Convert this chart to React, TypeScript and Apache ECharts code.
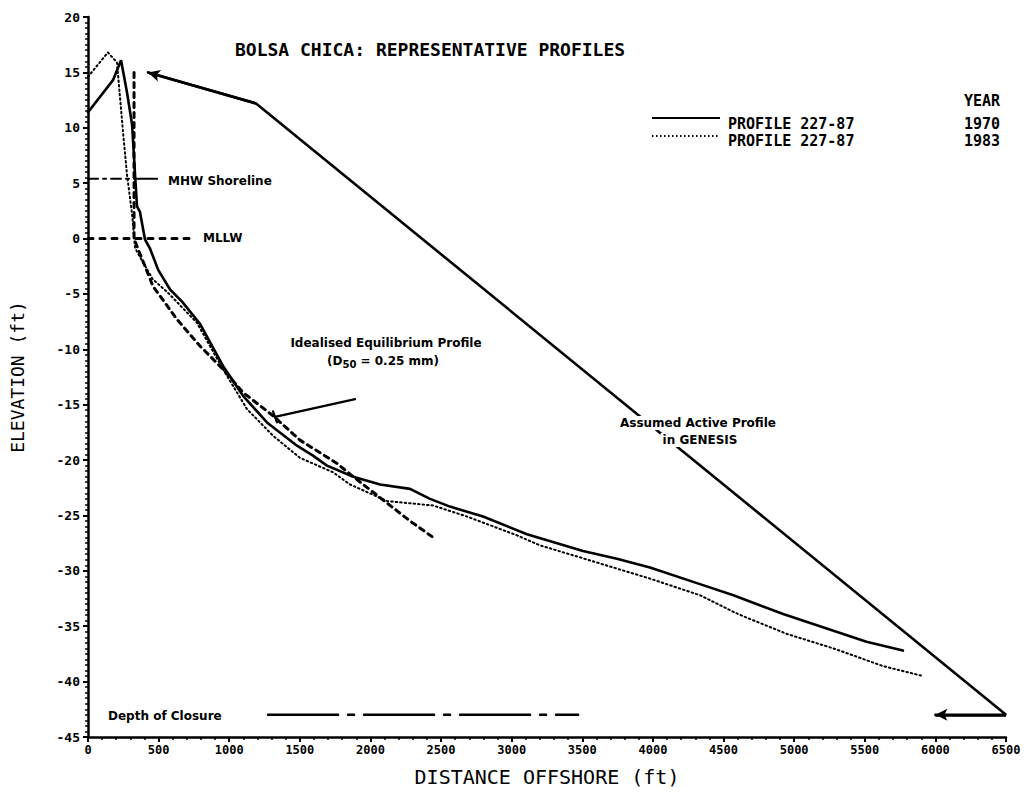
import React, { useEffect, useRef } from "react";
import * as echarts from "echarts";

// ---- data (distance offshore ft, elevation ft) ----
const profile1970: [number, number][] = [
  [0, 11.4], [177, 14.3], [234, 16.1], [276, 13.2], [312, 10.3], [333, 5.8], [347, 2.9],
  [368, 2.4], [404, -0.1], [439, -0.9], [496, -2.8], [581, -4.6], [666, -5.7], [793, -7.7],
  [956, -11.5], [1098, -14.2], [1267, -16.6], [1480, -18.7], [1593, -19.6], [1692, -20.5],
  [1878, -21.5], [2068, -22.2], [2280, -22.6], [2422, -23.5], [2563, -24.2], [2797, -25.1],
  [3108, -26.7], [3505, -28.2], [3745, -28.9], [3979, -29.7], [4333, -31.2], [4570, -32.2],
  [4922, -33.9], [5512, -36.4], [5770, -37.2],
];
const profile1983: [number, number][] = [
  [0, 14.6], [141, 16.8], [205, 15.9], [227, 12.7], [248, 9.6], [276, 5.8], [312, 2.2],
  [333, -0.8], [347, -1.2], [460, -3.7], [567, -4.9], [771, -7.6], [956, -11.8], [1126, -15.4],
  [1310, -17.8], [1501, -19.8], [1735, -21.1], [1855, -22.2], [2117, -23.7], [2443, -24.1],
  [2684, -25.1], [3038, -26.8], [3200, -27.7], [3462, -28.7], [3745, -29.8], [3979, -30.7],
  [4333, -32.2], [4570, -33.7], [4640, -34.1], [4950, -35.7], [5277, -37.0], [5630, -38.6],
  [5912, -39.5],
];
const equilibriumProfile: [number, number][] = [
  [326, 15], [326, 0], [347, -0.7], [460, -4.3], [630, -7.3], [793, -9.7], [956, -11.8],
  [1098, -13.9], [1310, -16.0], [1501, -18.2], [1763, -20.3], [1878, -21.5], [2089, -23.6],
  [2280, -25.5], [2457, -27.1],
];
const activeProfile: [number, number][] = [
  [425, 15], [1190, 12.2], [6500, -43], [6000, -43],
];
const mhwDashDot: [number, number][] = [[0, 5.4], [330, 5.4]];
const mhwSolid: [number, number][] = [[330, 5.4], [490, 5.4]];
const mllwLine: [number, number][] = [[0, 0], [760, 0]];
const closureLine: [number, number][] = [[1275, -43], [3470, -43]];
const equilibriumLeader: [number, number][] = [[1891, -14.5], [1324, -16.1]];
const equilibriumLeaderBar: [number, number][] = [[1310, -15.6], [1338, -16.6]];

const xTicks = { min: 0, max: 6500, interval: 500 };
const yTicks = { min: -45, max: 20, interval: 5 };

const MONO = "'DejaVu Sans Mono', monospace";
const SANS = "'DejaVu Sans', sans-serif";

export default function App() {
  const ref = useRef<HTMLDivElement>(null);
  useEffect(() => {
    if (!ref.current) return;
    const chart = echarts.init(ref.current, null, { renderer: "svg" });
    const black = "#000";
    const lineBase = (name: string, data: [number, number][], width: number, type: any, z = 2) => ({
      name,
      type: "line",
      data,
      showSymbol: false,
      symbol: "none",
      silent: true,
      clip: false,
      z,
      lineStyle: { color: black, width, type, cap: "round" },
    });
    const annText = (x: number, y: number, text: string, opts: any = {}) => ({
      type: "text",
      x,
      y,
      z: 100,
      style: {
        text,
        fill: black,
        font: opts.font || `bold 12px ${SANS}`,
        textAlign: opts.align || "left",
        textVerticalAlign: "middle",
        backgroundColor: opts.bg,
        padding: opts.bg ? [1, 2] : 0,
        rich: opts.rich,
      },
    });
    chart.setOption({
      animation: false,
      backgroundColor: "#fff",
      title: {
        text: "BOLSA CHICA: REPRESENTATIVE PROFILES",
        left: 230,
        top: 35,
        textStyle: { fontFamily: MONO, fontSize: 18, fontWeight: "bold", color: black },
      },
      grid: { left: 88, right: 19, top: 17, bottom: 62 },
      xAxis: {
        type: "value",
        ...xTicks,
        name: "DISTANCE OFFSHORE (ft)",
        nameLocation: "middle",
        nameGap: 30,
        nameTextStyle: { fontFamily: MONO, fontSize: 20, color: black },
        axisLine: { show: true, onZero: false, lineStyle: { color: black, width: 2.5 } },
        axisTick: { show: true, length: 5, lineStyle: { color: black, width: 2 } },
        minorTick: { show: true, splitNumber: 5, length: 3, lineStyle: { color: black, width: 1.5 } },
        splitLine: { show: false },
        axisLabel: {
          fontFamily: MONO, fontWeight: "bold", fontSize: 12, color: black, margin: 7,
          formatter: (v: number) => String(v),
        },
      },
      yAxis: {
        type: "value",
        ...yTicks,
        name: "ELEVATION (ft)",
        nameLocation: "middle",
        nameGap: 62,
        nameTextStyle: { fontFamily: MONO, fontSize: 18, color: black },
        axisLine: { show: true, onZero: false, lineStyle: { color: black, width: 2.5 } },
        axisTick: { show: true, length: 5, lineStyle: { color: black, width: 2 } },
        minorTick: { show: true, splitNumber: 10, length: 3, lineStyle: { color: black, width: 1.5 } },
        splitLine: { show: false },
        axisLabel: {
          fontFamily: MONO, fontWeight: "bold", fontSize: 13, color: black, margin: 8,
          formatter: (v: number) => String(v),
        },
      },
      series: [
        lineBase("PROFILE 227-87 1970", profile1970, 2.6, "solid"),
        lineBase("PROFILE 227-87 1983", profile1983, 2, [1.5, 3]),
        lineBase("Idealised Equilibrium Profile", equilibriumProfile, 3, [5, 5]),
        {
          ...lineBase("Assumed Active Profile", activeProfile, 2.6, "solid"),
          markLine: {
            silent: true,
            symbol: ["none", "arrow"],
            symbolSize: [9, 12],
            label: { show: false },
            lineStyle: { color: black, width: 2.6, type: "solid" },
            data: [
              [{ coord: activeProfile[1] }, { coord: activeProfile[0] }],
              [{ coord: activeProfile[2] }, { coord: activeProfile[3] }],
            ],
          },
        },
        lineBase("MHW dash-dot", mhwDashDot, 2, [10, 5, 3, 5]),
        lineBase("MHW solid", mhwSolid, 2, "solid"),
        lineBase("MLLW", mllwLine, 3, [5, 7]),
        lineBase("Depth of Closure", closureLine, 2.5, [70, 10, 6, 10]),
        lineBase("Leader", equilibriumLeader, 2.2, "solid"),
        lineBase("Leader bar", equilibriumLeaderBar, 2.2, "solid"),
      ],
      graphic: [
        // legend
        annText(1000, 101, "YEAR", { font: `bold 15px ${MONO}`, align: "right" }),
        { type: "line", shape: { x1: 652, y1: 118, x2: 720, y2: 118 }, style: { stroke: black, lineWidth: 2 } },
        annText(728, 124, "PROFILE 227-87", { font: `bold 15px ${MONO}` }),
        annText(1000, 124, "1970", { font: `bold 15px ${MONO}`, align: "right" }),
        { type: "line", shape: { x1: 652, y1: 136, x2: 720, y2: 136 }, style: { stroke: black, lineWidth: 1.8, lineDash: [1.5, 2.5] } },
        annText(728, 141, "PROFILE 227-87", { font: `bold 15px ${MONO}` }),
        annText(1000, 141, "1983", { font: `bold 15px ${MONO}`, align: "right" }),
        // annotations
        annText(168, 181, "MHW Shoreline"),
        annText(203, 238, "MLLW"),
        annText(386, 343, "Idealised Equilibrium Profile", { align: "center" }),
        annText(383, 361, "(D{s|50} = 0.25 mm)", {
          align: "center",
          rich: { s: { font: `bold 10px ${SANS}`, verticalAlign: "bottom", padding: [6, 0, 0, 0] } },
        }),
        annText(698, 423, "Assumed Active Profile", { align: "center", bg: "#fff" }),
        annText(700, 440, "in GENESIS", { align: "center", bg: "#fff" }),
        annText(108, 716, "Depth of Closure"),
      ],
    });
    return () => chart.dispose();
  }, []);
  return (
    <div
      ref={ref}
      style={{ position: "fixed", left: 0, top: 0, width: 1025, height: 799, background: "#fff" }}
    />
  );
}
